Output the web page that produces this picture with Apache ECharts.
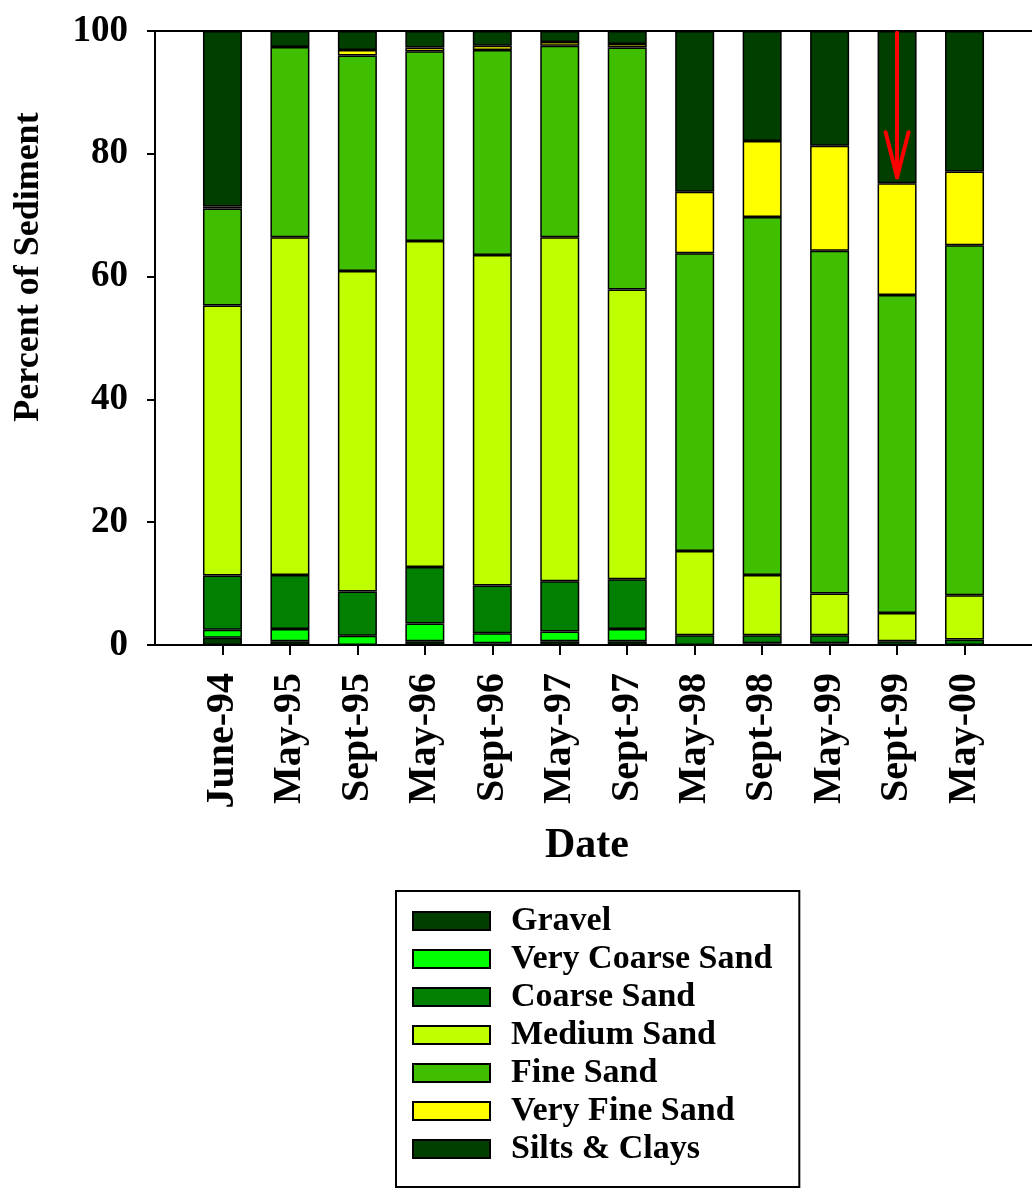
<!DOCTYPE html>
<html>
<head>
<meta charset="utf-8">
<script src="https://cdn.jsdelivr.net/npm/echarts@6/dist/echarts.min.js"></script>
<style>html,body{margin:0;padding:0;background:#fff}#c{width:1032px;height:1194px}</style>
</head>
<body>
<div id="c"></div>
<script>
const categories = ['June-94','May-95','Sept-95','May-96','Sept-96','May-97','Sept-97','May-98','Sept-98','May-99','Sept-99','May-00'];
const yTicks = [0, 20, 40, 60, 80, 100];
const gravel         = [1.2, 0.6, 0,    0.6,  0.3,  0.6,  0.6,  0,    0,    0,    0,    0];
const veryCoarseSand = [1.3, 2.0, 1.5,  2.9,  1.6,  1.6,  2.0,  0,    0.3,  0.3,  0,    0];
const coarseSand     = [8.8, 8.8, 7.2,  9.2,  7.8,  8.2,  8.1,  1.6,  1.3,  1.3,  0.6,  0.9];
const mediumSand     = [44.0,55.0,52.2, 53.1, 53.8, 56.0, 47.2, 13.7, 9.8,  6.8,  4.6,  7.2];
const fineSand       = [15.8,31.0,35.1, 30.9, 33.4, 31.2, 39.4, 48.5, 58.3, 55.8, 51.8, 57.0];
const veryFineSand   = [0.3, 0,   0.9,  0.6,  0.7,  0.6,  0.6,  10.0, 12.4, 17.1, 18.2, 12.0];
const siltsClays     = [28.6,2.6, 3.1,  2.7,  2.4,  1.8,  2.1,  26.2, 17.9, 18.7, 24.8, 22.9];
const seriesNames = ['Gravel','Very Coarse Sand','Coarse Sand','Medium Sand','Fine Sand','Very Fine Sand','Silts & Clays'];
const seriesValues = [gravel, veryCoarseSand, coarseSand, mediumSand, fineSand, veryFineSand, siltsClays];
const seriesColors = ['#003f00','#00ff00','#007f00','#bfff00','#40bf00','#ffff00','#003f00'];
// red annotation arrow over Sept-99 (percent values)
const arrowCategory = 'Sept-99';
const arrowFrom = 99.7, arrowTo = 76.2, arrowWingY = 83.5, arrowWingDx = 0.17;

const FONT = 'Liberation Serif';
const W = 1032;
const frameLeft = 155, frameRight = 0;
const unit = (W - frameLeft - frameRight) / (categories.length + 1);
const ax = categories.indexOf(arrowCategory) + 1;

const series = seriesNames.map((name, k) => ({
  name, type: 'bar', stack: 'total', barWidth: 39,
  xAxisIndex: 0, yAxisIndex: 0,
  itemStyle: { color: seriesColors[k], borderColor: '#000', borderWidth: 1.5 },
  emphasis: { disabled: true },
  data: seriesValues[k].map(v => (v === 0 ? '-' : v))
}));
series.push({
  name: 'arrow', type: 'line', data: [], silent: true,
  xAxisIndex: 1, yAxisIndex: 1,
  markLine: {
    silent: true, symbol: ['none', 'none'], animation: false,
    label: { show: false },
    lineStyle: { color: '#ff0000', width: 4, type: 'solid', cap: 'round' },
    emphasis: { disabled: true },
    data: [
      [{ coord: [ax, arrowFrom] }, { coord: [ax, arrowTo] }],
      [{ coord: [ax - arrowWingDx, arrowWingY] }, { coord: [ax, arrowTo] }],
      [{ coord: [ax + arrowWingDx, arrowWingY] }, { coord: [ax, arrowTo] }]
    ]
  }
});

const chart = echarts.init(document.getElementById('c'), null, { renderer: 'canvas' });
chart.setOption({
  animation: false,
  backgroundColor: '#fff',
  grid: [
    { left: frameLeft + unit / 2, right: frameRight + unit / 2, top: 31, bottom: 549 },
    { left: frameLeft, right: frameRight, top: 31, bottom: 549 }
  ],
  xAxis: [{
    type: 'category', data: categories, gridIndex: 0, boundaryGap: true,
    axisLine: { show: false },
    axisTick: { show: true, alignWithLabel: true, length: 10, lineStyle: { color: '#000', width: 2 } },
    axisLabel: {
      interval: 0, rotate: 90, margin: 28,
      fontFamily: FONT, fontWeight: 'bold', fontSize: 40, color: '#000'
    },
    name: 'Date', nameLocation: 'middle', nameGap: 180,
    nameTextStyle: { fontFamily: FONT, fontWeight: 'bold', fontSize: 42, color: '#000', padding: [0, 13, 0, 0] }
  }, {
    type: 'value', gridIndex: 1, min: 0, max: categories.length + 1, position: 'bottom',
    splitLine: { show: false },
    axisLine: { show: true, onZero: false, lineStyle: { color: '#000', width: 2 } },
    axisTick: { show: false }, axisLabel: { show: false }
  }, {
    type: 'value', gridIndex: 1, min: 0, max: categories.length + 1, position: 'top',
    splitLine: { show: false },
    axisLine: { show: true, onZero: false, lineStyle: { color: '#000', width: 2 } },
    axisTick: { show: false }, axisLabel: { show: false }
  }],
  yAxis: [{
    type: 'value', gridIndex: 0, min: 0, max: 100, interval: 20, show: false
  }, {
    type: 'value', gridIndex: 1, min: 0, max: 100, interval: 20,
    splitLine: { show: false },
    axisLine: { show: true, onZero: false, lineStyle: { color: '#000', width: 2 } },
    axisTick: { show: true, length: 8, lineStyle: { color: '#000', width: 2 } },
    axisLabel: { margin: 27, fontFamily: FONT, fontWeight: 'bold', fontSize: 37, color: '#000', padding: [0, 0, 10, 0] }
  }],
  legend: {
    data: seriesNames, orient: 'vertical', left: 396, top: 891,
    icon: 'rect', itemWidth: 77, itemHeight: 18, itemGap: 4,
    padding: [13, 27, 21, 16],
    borderColor: '#000', borderWidth: 2,
    itemStyle: { borderColor: '#000', borderWidth: 2 },
    selectedMode: false,
    textStyle: { fontFamily: FONT, fontWeight: 'bold', fontSize: 34, lineHeight: 34, color: '#000', padding: [0, 0, 0, 16] }
  },
  graphic: [{
    type: 'text', x: 29, y: 267, rotation: Math.PI / 2,
    style: { text: 'Percent of Sediment', fontFamily: FONT, fontWeight: 'bold', fontSize: 36, fill: '#000', textAlign: 'center', textVerticalAlign: 'middle' }
  }],
  series
});
</script>
</body>
</html>
